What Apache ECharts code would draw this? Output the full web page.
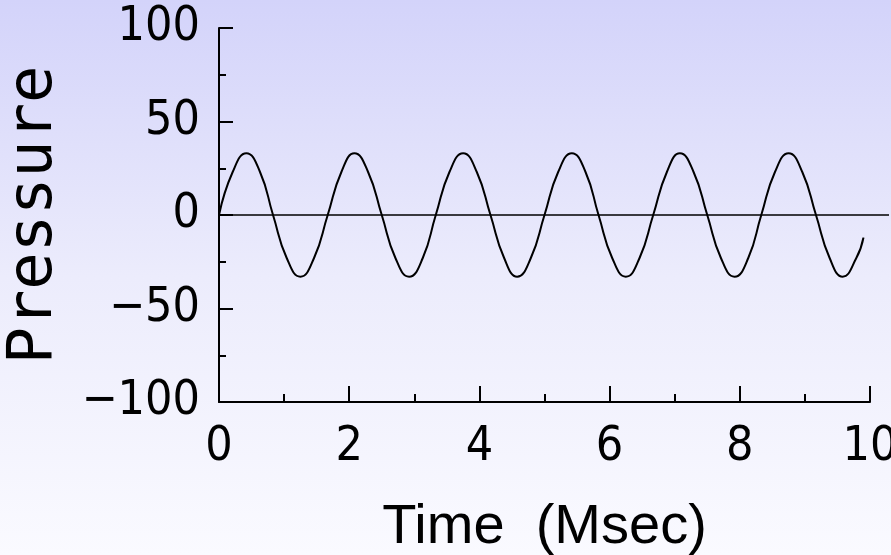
<!DOCTYPE html>
<html>
<head>
<meta charset="utf-8">
<script src="https://cdn.jsdelivr.net/npm/echarts@6/dist/echarts.min.js"></script>
<style>
  html, body { margin: 0; padding: 0; }
  #chart {
    width: 891px; height: 555px;
    background: linear-gradient(to bottom, #d3d3fa 0%, #ececfc 50%, #fafaff 100%);
  }
</style>
</head>
<body>
<div id="chart"></div>
<script>
// Pressure trace sampled over time (ms)
const timeMs = [
  0.00, 0.21, 0.42, 0.63, 0.83, 1.04, 1.25, 1.46,
  1.67, 1.88, 2.08, 2.29, 2.50, 2.71, 2.92, 3.13,
  3.33, 3.54, 3.75, 3.96, 4.17, 4.38, 4.58, 4.79,
  5.00, 5.21, 5.42, 5.63, 5.83, 6.04, 6.25, 6.46,
  6.67, 6.88, 7.08, 7.29, 7.50, 7.71, 7.92, 8.13,
  8.33, 8.54, 8.75, 8.96, 9.17, 9.38, 9.58, 9.79,
  9.90
];
const pressure = [
  0, 23, 33, 23, 0, -23, -33, -23,
  0, 23, 33, 23, 0, -23, -33, -23,
  0, 23, 33, 23, 0, -23, -33, -23,
  0, 23, 33, 23, 0, -23, -33, -23,
  0, 23, 33, 23, 0, -23, -33, -23,
  0, 23, 33, 23, 0, -23, -33, -23,
  -12
];
// Horizontal reference level
const zeroLevel = 0;

// Axis ranges and tick steps
const xRange = [0, 10], xStep = 2;
const yRange = [-100, 100], yStep = 50;
const xTitle = 'Time  (Msec)';
const yTitle = 'Pressure';

const labelFont = "'DejaVu Sans', 'Liberation Sans', sans-serif";
const ink = '#000';

const chart = echarts.init(document.getElementById('chart'), null, { renderer: 'canvas' });

const points = timeMs.map((t, i) => [t, pressure[i]]);

chart.setOption({
  animation: false,
  backgroundColor: 'transparent',
  grid: [
    { left: 219, right: 21, top: 28, bottom: 153, outerBoundsMode: 'none', containLabel: false },
    { left: 219, right: 2, top: 28, bottom: 153, outerBoundsMode: 'none', containLabel: false }
  ],
  xAxis: [
    {
      gridIndex: 0, type: 'value', min: xRange[0], max: xRange[1], interval: xStep,
      axisLine: { show: true, onZero: false, lineStyle: { color: ink, width: 2 } },
      axisTick: { show: true, inside: true, length: 16, lineStyle: { color: ink, width: 2 } },
      minorTick: { show: true, splitNumber: 2, length: 8, lineStyle: { color: ink, width: 2 } },
      splitLine: { show: false },
      axisLabel: {
        color: ink, fontFamily: labelFont, fontStyle: 'condensed', fontSize: 48, lineHeight: 48, margin: 22,
        showMaxLabel: true, showMinLabel: true
      },
      name: xTitle, nameLocation: 'middle', nameGap: 98,
      nameTextStyle: { color: ink, fontFamily: "'Liberation Sans', sans-serif", fontSize: 56, lineHeight: 56 }
    },
    {
      gridIndex: 1, type: 'value', min: 0, max: 1, show: false
    }
  ],
  yAxis: [
    {
      gridIndex: 0, type: 'value', min: yRange[0], max: yRange[1], interval: yStep,
      axisLine: { show: true, onZero: false, lineStyle: { color: ink, width: 2 } },
      axisTick: { show: true, inside: true, length: 14, lineStyle: { color: ink, width: 2 } },
      minorTick: { show: true, splitNumber: 2, length: 7, lineStyle: { color: ink, width: 2 } },
      splitLine: { show: false },
      axisLabel: {
        color: ink, fontFamily: labelFont, fontStyle: 'condensed', fontSize: 48, margin: 19,
        formatter: v => String(v).replace('-', '\u2212')
      },
      name: yTitle, nameLocation: 'middle', nameGap: 153, nameRotate: 90,
      nameTextStyle: { color: ink, fontFamily: "'DejaVu Sans Mono', monospace", fontSize: 62, lineHeight: 62 }
    },
    {
      gridIndex: 1, type: 'value', min: yRange[0], max: yRange[1], show: false
    }
  ],
  series: [
    {
      type: 'line', xAxisIndex: 1, yAxisIndex: 1, silent: true,
      data: [[0, zeroLevel], [1, zeroLevel]],
      symbol: 'none', z: 1,
      lineStyle: { color: '#000', width: 1.5 }
    },
    {
      type: 'line', xAxisIndex: 0, yAxisIndex: 0,
      data: points, smooth: true, symbol: 'none', z: 3,
      lineStyle: { color: ink, width: 2 }
    }
  ]
});
</script>
</body>
</html>
